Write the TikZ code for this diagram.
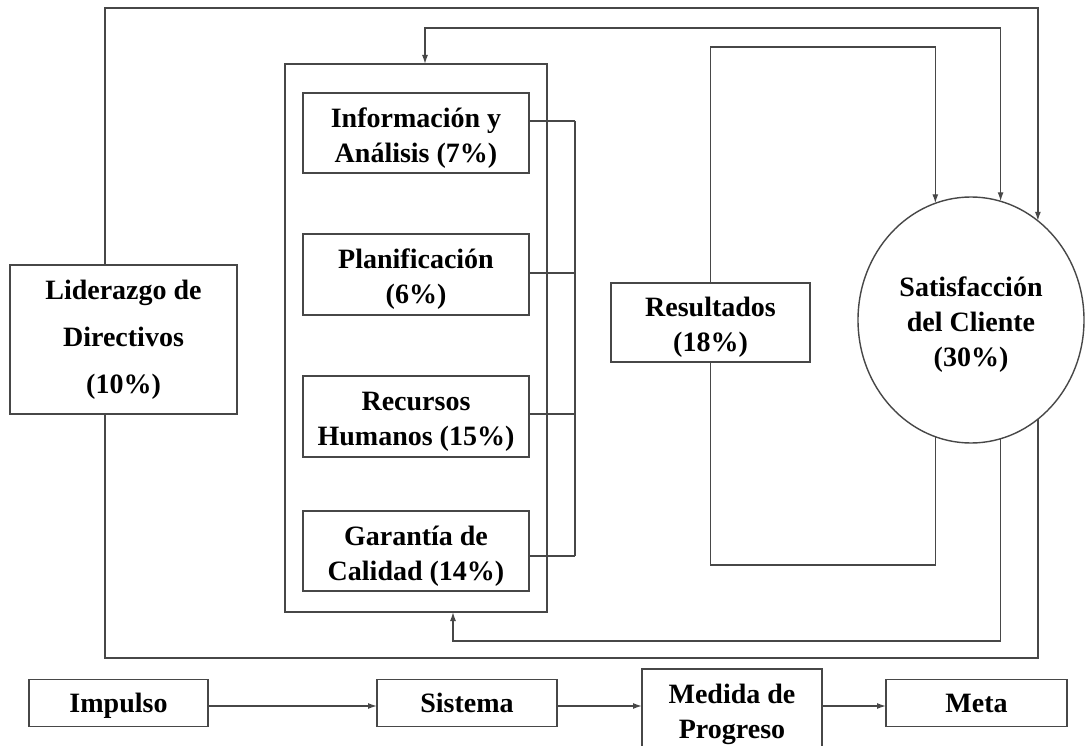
\documentclass[tikz,border=0pt]{standalone}
\usepackage{fontspec}
\setmainfont{Liberation Serif}
\usetikzlibrary{arrows.meta,shapes.geometric}
\newcommand\topstrut{\rule{0pt}{29pt}}

\begin{document}
\begin{tikzpicture}[x=1pt,y=-1pt,
  ln/.style={draw=black!72, line width=1.4pt},
  tip/.style={-{Latex[length=9pt,width=6pt]}},
  bx/.style={ln, rectangle, fill=white, inner sep=0pt, outer sep=0pt, text=black,
    align=center, font=\fontsize{28}{35}\selectfont\bfseries},
  one/.style={execute at begin node={\rule{0pt}{26pt}},
    execute at end node={\rule[-7pt]{0pt}{7pt}}},
]
\useasboundingbox (0,0) rectangle (1086,746);
\clip (0,0) rectangle (1086,746);
\fill[white] (0,0) rectangle (1086,746);

% ---------- nodes ----------
\node[bx, minimum width=227pt, minimum height=149pt, font=\fontsize{28}{47}\selectfont\bfseries]
  (lid) at (123.5,339.5) {Liderazgo de\\Directivos\\(10\%)};
\node[bx, minimum width=262pt, minimum height=548pt] (big) at (416,338) {};
\node[bx, minimum width=226pt, minimum height=80pt] (info) at (416,133) {\topstrut Información y\\Análisis (7\%)};
\node[bx, minimum width=226pt, minimum height=81pt] (plan) at (416,274.5) {\topstrut Planificación\\(6\%)};
\node[bx, minimum width=226pt, minimum height=81pt] (rec) at (416,416.5) {\topstrut Recursos\\Humanos (15\%)};
\node[bx, minimum width=226pt, minimum height=80pt] (gar) at (416,551) {\topstrut Garantía de\\Calidad (14\%)};
\node[bx, minimum width=199pt, minimum height=79pt] (res) at (710.5,322.5) {\topstrut Resultados\\(18\%)};
\node[bx, ellipse, minimum width=226pt, minimum height=246pt] (sat) at (971,320)
  {\topstrut Satisfacción\\del Cliente\\(30\%)};

\node[bx, one, minimum width=179pt, minimum height=47pt] (imp) at (118.5,703) {Impulso};
\node[bx, one, minimum width=180pt, minimum height=47pt] (sis) at (467,703) {Sistema};
\node[bx, minimum width=180pt, minimum height=82pt] (med) at (732,710) {\topstrut Medida de\\Progreso};
\node[bx, one, minimum width=181pt, minimum height=47pt] (meta) at (976.5,703) {Meta};

% ---------- helper coordinates ----------
\coordinate (oT) at (105,8);
\coordinate (oB) at (105,658);
\coordinate (t2) at (425,28);
\coordinate (b2) at (453,641);
\coordinate (t3) at (0,47);
\coordinate (b3) at (0,565);
\coordinate (j1) at (575,121);
\coordinate (j2) at (575,273);
\coordinate (j3) at (575,414);
\coordinate (j4) at (575,556);
\coordinate (ay) at (0,706);

% ---------- outer loop (Liderazgo) ----------
\draw[ln, tip] (lid.north -| oT) -- (oT) -- (oT -| sat.56.5) -- (sat.56.5);
\draw[ln] (lid.south -| oB) -- (oB) -- (oB -| sat.-56.5) -- (sat.-56.5);

% ---------- second loop ----------
\draw[ln, {Latex[length=9pt,width=6pt]}-{Latex[length=9pt,width=6pt]}]
  (t2 |- big.north) -- (t2) -- (t2 -| sat.76.3) -- (sat.76.3);
\draw[ln, tip] (sat.-76.3) -- (sat.-76.3 |- b2) -- (b2) -- (b2 |- big.south);

% ---------- third loop (Resultados) ----------
\draw[ln, tip] (res.north) -- (res.north |- t3) -- (t3 -| sat.107.2) -- (sat.107.2);
\draw[ln] (res.south) -- (res.south |- b3) -- (b3 -| sat.-107.2) -- (sat.-107.2);

% ---------- bus ----------
\draw[ln] (info.east |- j1) -- (j1);
\draw[ln] (plan.east |- j2) -- (j2);
\draw[ln] (rec.east |- j3) -- (j3);
\draw[ln] (gar.east |- j4) -- (j4);
\draw[ln] (j1) -- (j4);

% ---------- bottom row ----------
\draw[ln, tip] (imp.east |- ay) -- (sis.west |- ay);
\draw[ln, tip] (sis.east |- ay) -- (med.west |- ay);
\draw[ln, tip] (med.east |- ay) -- (meta.west |- ay);
\end{tikzpicture}
\end{document}
